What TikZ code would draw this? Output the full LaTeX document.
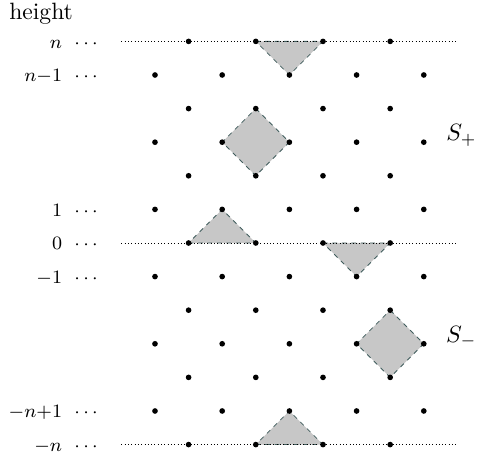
\documentclass[tikz,border=0pt]{standalone}
\pgfdeclarelayer{background}
\pgfsetlayers{background,main}
\definecolor{edgecol}{rgb}{0.25,0.36,0.36}
\begin{document}
\begin{tikzpicture}[x=0.5cm, y=0.5cm,
    pt/.style={circle, fill, inner sep=0pt, minimum size=2.4pt},
    cell/.style={fill=black!22, draw=edgecol, dash pattern=on 2pt off 2pt, line width=0.35pt},
    lvl/.style={densely dotted, line width=0.4pt}]
    \useasboundingbox (-4.613,-6.458) rectangle (9.673,7.232);
    % lattice points, row 0 is height n
    \foreach \r in {0,...,12} {
        \foreach \c in {0,...,8} {
            \pgfmathtruncatemacro{\odd}{mod(\r+\c,2)}
            \ifnum\odd=1 \node[pt] (d-\c-\r) at (\c,6-\r) {}; \fi
        }
    }
    % levels n, 0, -n
    \coordinate (a0) at (-1,6);  \coordinate (b0) at (9,6);
    \coordinate (a6) at (-1,0);  \coordinate (b6) at (9,0);
    \coordinate (a12) at (-1,-6); \coordinate (b12) at (9,-6);
    \begin{pgfonlayer}{background}
        \draw[cell] (d-3-0.center) -- (d-5-0.center) -- (d-4-1.center) -- cycle;
        \draw[cell] (d-3-2.center) -- (d-4-3.center) -- (d-3-4.center) -- (d-2-3.center) -- cycle;
        \draw[cell] (d-1-6.center) -- (d-3-6.center) -- (d-2-5.center) -- cycle;
        \draw[cell] (d-5-6.center) -- (d-7-6.center) -- (d-6-7.center) -- cycle;
        \draw[cell] (d-7-8.center) -- (d-8-9.center) -- (d-7-10.center) -- (d-6-9.center) -- cycle;
        \draw[cell] (d-3-12.center) -- (d-5-12.center) -- (d-4-11.center) -- cycle;
        \draw[lvl] (a0) -- (b0);
        \draw[lvl] (a6) -- (b6);
        \draw[lvl] (a12) -- (b12);
    \end{pgfonlayer}
    % heights on the left
    \node (height) at (-3.39,6.82) {height};
    \foreach \r/\t in {0/n, 1/n{-}1, 5/1, 6/0, 7/-1, 11/-n{+}1, 12/-n} {
        \node[anchor=base east, inner sep=0pt] (lab\r) at (-2.75,6-\r-0.2) {\footnotesize $\t$};
        \node[anchor=base, inner sep=0pt] (dots\r) at (-2.05,6-\r-0.2) {\footnotesize $\cdots$};
    }
    \node (splus) at (9.12,3.2) {$S_+$};
    \node (sminus) at (9.12,-2.8) {$S_-$};
\end{tikzpicture}
\end{document}
